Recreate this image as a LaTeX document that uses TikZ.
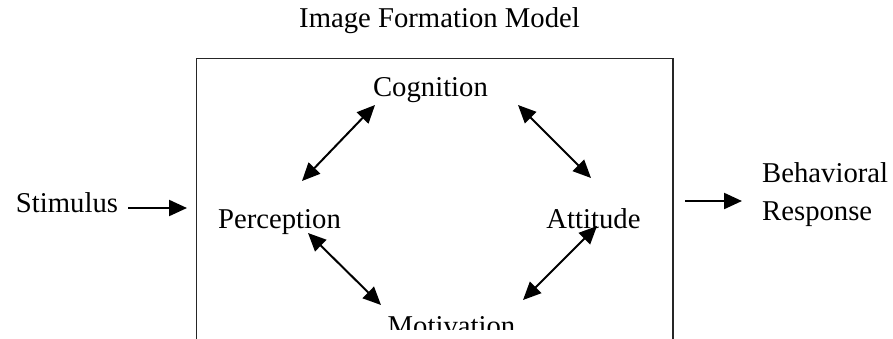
\documentclass[tikz,border=0pt]{standalone}
\usepackage{fontspec}
\setmainfont{Liberation Serif}
\usetikzlibrary{arrows.meta}
\begin{document}
\begin{tikzpicture}[x=1pt,y=-1pt,
    lbl/.style={font=\fontsize{28.7}{38}\selectfont, inner sep=0pt},
    link/.style={line width=2pt, {Triangle[length=18pt,width=16pt]}-{Triangle[length=18pt,width=16pt]}},
    flow/.style={line width=2.2pt, -{Triangle[length=18pt,width=16pt]}}]
                \useasboundingbox (0,0) rectangle (893,338);
                % title and the four stages
                \node[lbl, anchor=base] (title) at (439.5,27) {Image Formation Model};
                \node[lbl, anchor=base] (cog) at (430.5,96) {Cognition};
                \node[lbl, anchor=base] (perc) at (279.5,228) {Perception};
                \node[lbl, anchor=base] (att) at (593.5,228) {Attitude};
                \begin{scope}
                    \clip (0,0) rectangle (893,329);
                    \node[lbl, anchor=base] (mot) at (451.5,335) {Motivation};
                \end{scope}
                \node[lbl, anchor=base] (stim) at (67,212) {Stimulus};
                \node[lbl, anchor=west, align=left] (resp) at (762,194.3) {Behavioral\\Response};
                % the model frame, open at the bottom
                \draw[line width=1.3pt, black!85] (196.5,340) -- (196.5,58.5) -- (673,58.5) -- (673,340);
                % ends of the arrows
                \coordinate (cp1) at (375,105);
                \coordinate (cp2) at (302,181);
                \coordinate (ca1) at (518,105);
                \coordinate (ca2) at (591,178);
                \coordinate (pm1) at (308,233);
                \coordinate (pm2) at (381,305);
                \coordinate (am1) at (597,226);
                \coordinate (am2) at (523,300);
                \coordinate (in1) at (128,208);
                \coordinate (in2) at (187,208);
                \coordinate (out1) at (685,201);
                \coordinate (out2) at (742,201);
                \draw[link] (cp1) -- (cp2);
                \draw[link] (ca1) -- (ca2);
                \draw[link] (pm1) -- (pm2);
                \draw[link] (am1) -- (am2);
                \draw[flow] (in1) -- (in2);
                \draw[flow] (out1) -- (out2);
\end{tikzpicture}
\end{document}
